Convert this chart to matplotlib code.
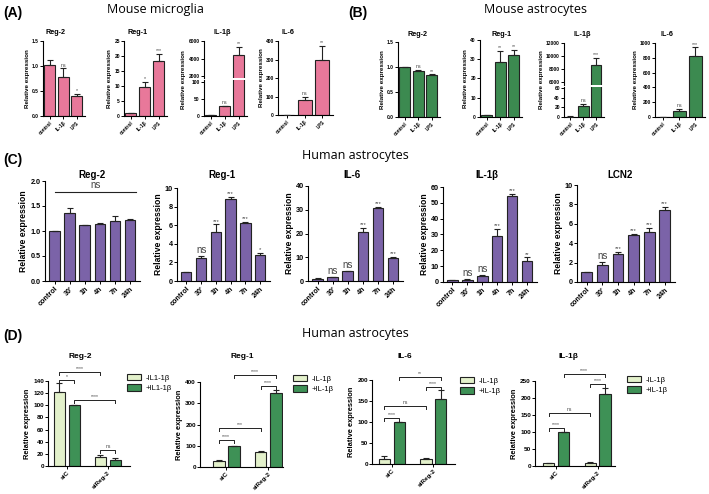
import numpy as np
import matplotlib.pyplot as plt
from matplotlib.patches import Patch

plt.rcParams['font.family'] = ['Liberation Sans', 'DejaVu Sans']

# ---- data ----
cats_ab = ["control", "IL-1β", "LPS"]
cats_c = ["control", "30'", "1h", "4h", "7h", "24h"]
cats_d = ["siC", "siReg-2"]

# (A) mouse microglia
a_reg2 = [1.01, 0.77, 0.39]
a_reg2_err = [0.10, 0.18, 0.05]
a_reg2_sig = ["", "ns", "*"]
a_reg1 = [1.0, 9.6, 18.3]
a_reg1_err = [0.15, 1.8, 2.3]
a_reg1_sig = ["", "*", "***"]
a_il1b = [2, 29, 4400]
a_il1b_err = [0.5, 1.5, 900]
a_il1b_sig = ["", "ns", "**"]
a_il6 = [1.5, 81, 300]
a_il6_err = [0.5, 18, 75]
a_il6_sig = ["", "ns", "**"]

# (B) mouse astrocytes
b_reg2 = [1.0, 0.91, 0.83]
b_reg2_err = [0.0, 0.03, 0.02]
b_reg2_sig = ["", "ns", "**"]
b_reg1 = [1.0, 28.7, 32.0]
b_reg1_err = [0.1, 5.6, 2.9]
b_reg1_sig = ["", "**", "**"]
b_il1b = [1, 23, 8600]
b_il1b_err = [0.3, 4, 1150]
b_il1b_sig = ["", "ns", "***"]
b_il6 = [1, 85, 820]
b_il6_err = [0.3, 25, 120]
b_il6_sig = ["", "ns", "***"]

# (C) human astrocytes, time course
c_reg2 = [1.0, 1.35, 1.11, 1.15, 1.20, 1.23]
c_reg2_err = [0.0, 0.11, 0.01, 0.01, 0.11, 0.02]
c_reg1 = [1.0, 2.45, 5.3, 8.85, 6.2, 2.75]
c_reg1_err = [0.0, 0.25, 0.8, 0.2, 0.12, 0.25]
c_reg1_sig = ["", "ns", "***", "***", "***", "*"]
c_il6 = [1.0, 1.6, 4.1, 20.6, 30.8, 9.6]
c_il6_err = [0.1, 0.2, 0.2, 1.7, 0.5, 0.6]
c_il6_sig = ["", "ns", "ns", "***", "***", "***"]
c_il1b = [1.0, 1.4, 3.9, 28.9, 54.0, 13.2]
c_il1b_err = [0.1, 0.6, 0.7, 4.7, 1.5, 2.3]
c_il1b_sig = ["", "ns", "ns", "***", "***", "**"]
c_lcn2 = [1.0, 1.72, 2.93, 4.82, 5.17, 7.45]
c_lcn2_err = [0.0, 0.33, 0.17, 0.14, 0.4, 0.3]
c_lcn2_sig = ["", "ns", "***", "***", "***", "***"]

# (D) siRNA, order: siC -IL1b, siC +IL1b, siReg-2 -IL1b, siReg-2 +IL1b
d_reg2 = [122, 100, 15, 9.4]
d_reg2_err = [14, 0, 2.7, 3.3]
d_reg2_br = [(0, 2, 155, "****"), (0, 1, 141, "*"), (1, 3, 109, "****"), (2, 3, 26, "ns")]
d_reg1 = [26.7, 99, 70.6, 350]
d_reg1_err = [4, 0, 7, 14]
d_reg1_br = [(1, 3, 433, "****"), (2, 3, 381, "****"), (0, 2, 184, "***"), (0, 1, 127, "****")]
d_il6 = [12.6, 99.6, 12.6, 154]
d_il6_err = [5.5, 0, 2.5, 22]
d_il6_br = [(1, 3, 207, "**"), (2, 3, 183, "****"), (0, 2, 138, "ns"), (0, 1, 110, "****")]
d_il1b = [7.8, 100, 9.8, 212]
d_il1b_err = [2, 0, 2, 16]
d_il1b_br = [(1, 3, 271, "****"), (2, 3, 241, "****"), (0, 2, 156, "ns"), (0, 1, 112, "****")]

PINK = '#e8789a'
GREEN = '#3c8a50'
PURPLE = '#7b63a8'
LIGHT = '#e3f1cb'
DARK = '#3e9156'
EDGE = '#222222'

W, H = 709, 494
fig = plt.figure(figsize=(W / 100, H / 100), dpi=100)


def add_px(l, t, r, b):
    return fig.add_axes([l / W, 1 - b / H, (r - l) / W, (b - t) / H])


def style(ax, fs):
    for s in ['top', 'right']:
        ax.spines[s].set_visible(False)
    for s in ['left', 'bottom']:
        ax.spines[s].set_linewidth(0.8)
    ax.tick_params(labelsize=fs, length=2, width=0.7, pad=1)
    for lab in ax.get_xticklabels() + ax.get_yticklabels():
        lab.set_fontweight('bold')


def draw_bars(ax, x, vals, errs, colors, width):
    ax.bar(x, vals, width, color=colors, edgecolor=EDGE, linewidth=0.8, zorder=2)
    ax.errorbar(x, vals, yerr=[np.zeros(len(vals)), errs], fmt='none', ecolor=EDGE,
                elinewidth=0.8, capsize=2, capthick=0.8, zorder=3)


def marks(ax, x, vals, errs, sigs, fs, ns_fs=None):
    for xi, v, e, s in zip(x, vals, errs, sigs):
        if not s:
            continue
        size = ns_fs if (s == "ns" and ns_fs) else fs
        ax.annotate(s, (xi, v + e), xytext=(0, 0.5), textcoords='offset points',
                    ha='center', va='bottom', fontsize=size, color='#444444')


def ptext(x, y, s, **kw):
    fig.text(x / W, 1 - y / H, s, **kw)


def simple(box, cats, vals, errs, sigs, color, ylim, yticks, ytl, fs_tick, fs_lab,
           fs_star, width, xlim, ns_fs=None):
    ax = add_px(*box)
    x = np.arange(len(vals))
    draw_bars(ax, x, vals, errs, color, width)
    ax.set_ylim(ylim)
    ax.set_yticks(yticks)
    ax.set_yticklabels(ytl)
    ax.set_xticks(x)
    ax.set_xticklabels(cats, rotation=45, ha='right', rotation_mode='anchor')
    ax.set_xlim(xlim)
    ax.set_ylabel('Relative expression', fontsize=fs_lab, fontweight='bold', labelpad=1.5)
    style(ax, fs_tick)
    marks(ax, x, vals, errs, sigs, fs_star, ns_fs)
    return ax


def broken(box_top, box_bot, cats, vals, errs, sigs, color, ylim_t, yt_t, ylim_b, yt_b,
           fs_tick, fs_star, width, xlim, lab_xy, fs_lab):
    axt = add_px(*box_top)
    axb = add_px(*box_bot)
    x = np.arange(len(vals))
    for ax in (axt, axb):
        draw_bars(ax, x, vals, errs, color, width)
        ax.set_xlim(xlim)
    axt.set_ylim(ylim_t)
    axt.set_yticks(yt_t)
    axb.set_ylim(ylim_b)
    axb.set_yticks(yt_b)
    axb.set_xticks(x)
    axb.set_xticklabels(cats, rotation=45, ha='right', rotation_mode='anchor')
    style(axt, fs_tick)
    style(axb, fs_tick)
    axt.spines['bottom'].set_visible(False)
    axt.tick_params(bottom=False, labelbottom=False)
    for xi, v, e, s in zip(x, vals, errs, sigs):
        if not s:
            continue
        ax = axt if v > ylim_b[1] else axb
        ax.annotate(s, (xi, v + e), xytext=(0, 0.5), textcoords='offset points',
                    ha='center', va='bottom', fontsize=fs_star, color='#444444',
                    annotation_clip=False)
    ptext(lab_xy[0], lab_xy[1], 'Relative expression', rotation=90, ha='center',
          va='center', fontsize=fs_lab, fontweight='bold')


# ---- headers ----
ptext(3, 13, '(A)', fontsize=10, fontweight='bold', va='center')
ptext(348, 13, '(B)', fontsize=10, fontweight='bold', va='center')
ptext(3, 160, '(C)', fontsize=10, fontweight='bold', va='center')
ptext(3, 336, '(D)', fontsize=10, fontweight='bold', va='center')
ptext(155, 9, 'Mouse microglia', fontsize=9, ha='center', va='center', family='Open Sans')
ptext(535, 9, 'Mouse astrocytes', fontsize=9, ha='center', va='center', family='Open Sans')
ptext(355, 155, 'Human astrocytes', fontsize=9, ha='center', va='center', family='Open Sans')
ptext(355, 333, 'Human astrocytes', fontsize=9, ha='center', va='center', family='Open Sans')

# ---- (A) ----
fsA, fsAl, fsAs = 3.5, 4.5, 3.8
xl3 = (-0.5, 2.6)
simple((43, 41, 85, 116), cats_ab, a_reg2, a_reg2_err, a_reg2_sig, PINK, (0, 1.5),
       [0, 0.5, 1.0, 1.5], ['0.0', '0.5', '1.0', '1.5'], fsA, fsAl, fsAs, 0.8, xl3)
simple((124, 41, 167, 116), cats_ab, a_reg1, a_reg1_err, a_reg1_sig, PINK, (0, 25),
       [0, 5, 10, 15, 20, 25], ['0', '5', '10', '15', '20', '25'], fsA, fsAl, fsAs, 0.8, xl3)
broken((204, 41, 247, 78), (204, 80, 247, 116), cats_ab, a_il1b, a_il1b_err, a_il1b_sig,
       PINK, (1800, 6000), [2000, 4000, 6000], (0, 105), [0, 50, 100],
       fsA, fsAs, 0.8, xl3, (184, 80), fsAl)
simple((278, 41, 333, 115), cats_ab, a_il6, a_il6_err, a_il6_sig, PINK, (0, 400),
       [0, 100, 200, 300, 400], ['0', '100', '200', '300', '400'], fsA, fsAl, fsAs, 0.8, xl3)
for x, t in [(55, 'Reg-2'), (138, 'Reg-1'), (222, 'IL-1β'), (288, 'IL-6')]:
    ptext(x, 33, t, fontsize=5.2, fontweight='bold', ha='center', va='center')

# ---- (B) ----
simple((398, 42, 440, 117), cats_ab, b_reg2, b_reg2_err, b_reg2_sig, GREEN, (0, 1.5),
       [0, 0.5, 1.0, 1.5], ['0.0', '0.5', '1.0', '1.5'], fsA, fsAl, fsAs, 0.8, xl3)
simple((480, 40, 522, 117), cats_ab, b_reg1, b_reg1_err, b_reg1_sig, GREEN, (0, 40),
       [0, 10, 20, 30, 40], ['0', '10', '20', '30', '40'], fsA, fsAl, fsAs, 0.8, xl3)
broken((564, 43, 604, 85), (564, 87, 604, 117), cats_ab, b_il1b, b_il1b_err, b_il1b_sig,
       GREEN, (5500, 12000), [6000, 8000, 10000, 12000], (0, 62), [0, 20, 40, 60],
       fsA, fsAs, 0.8, xl3, (542, 80), fsAl)
simple((655, 43, 705, 117), cats_ab, b_il6, b_il6_err, b_il6_sig, GREEN, (0, 1000),
       [0, 200, 400, 600, 800, 1000], ['0', '200', '400', '600', '800', '1000'],
       fsA, fsAl, fsAs, 0.8, xl3)
for x, t in [(418, 'Reg-2'), (502, 'Reg-1'), (582, 'IL-1β'), (667, 'IL-6')]:
    ptext(x, 35, t, fontsize=5.2, fontweight='bold', ha='center', va='center')

# ---- (C) ----
fsC, fsCl, fsCs, fsCns = 5.2, 6.2, 4.2, 7
xl6 = (-0.63, 5.66)
ax = simple((45, 181, 140, 281), cats_c, c_reg2, c_reg2_err, [""] * 6, PURPLE, (0, 2.0),
            [0, 0.5, 1.0, 1.5, 2.0], ['0.0', '0.5', '1.0', '1.5', '2.0'],
            fsC, fsCl, fsCs, 0.7, xl6)
ax.plot([0, 5.4], [1.77, 1.77], color=EDGE, lw=0.8)
ax.text(2.7, 1.83, 'ns', ha='center', va='bottom', fontsize=fsCns, color='#444444')
simple((177, 188, 270, 281), cats_c, c_reg1, c_reg1_err, c_reg1_sig, PURPLE, (0, 10),
       [0, 2, 4, 6, 8, 10], ['0', '2', '4', '6', '8', '10'], fsC, fsCl, fsCs, 0.7, xl6, fsCns)
simple((308, 186, 403, 281), cats_c, c_il6, c_il6_err, c_il6_sig, PURPLE, (0, 40),
       [0, 10, 20, 30, 40], ['0', '10', '20', '30', '40'], fsC, fsCl, fsCs, 0.7, xl6, fsCns)
simple((443, 187, 537, 282), cats_c, c_il1b, c_il1b_err, c_il1b_sig, PURPLE, (0, 60),
       [0, 10, 20, 30, 40, 50, 60], ['0', '10', '20', '30', '40', '50', '60'],
       fsC, fsCl, fsCs, 0.7, xl6, fsCns)
simple((577, 185, 675, 282), cats_c, c_lcn2, c_lcn2_err, c_lcn2_sig, PURPLE, (0, 10),
       [0, 2, 4, 6, 8, 10], ['0', '2', '4', '6', '8', '10'], fsC, fsCl, fsCs, 0.7, xl6, fsCns)
for x, t in [(92, 'Reg-2'), (222, 'Reg-1'), (352, 'IL-6'), (487, 'IL-1β'), (620, 'LCN2')]:
    ptext(x, 175, t, fontsize=7, fontweight='bold', ha='center', va='center')

# ---- (D) ----
fsD, fsDl, fsDs = 4.6, 5.4, 3.6
xd = np.array([-0.18, 0.18, 0.82, 1.18])
dcolors = [LIGHT, DARK, LIGHT, DARK]


def d_panel(box, vals, errs, brackets, ylim, yticks, xlim, leg_xy, leg_labels):
    ax = add_px(*box)
    draw_bars(ax, xd, vals, errs, dcolors, 0.27)
    ax.set_ylim(ylim)
    ax.set_yticks(yticks)
    ax.set_xticks([0, 1])
    ax.set_xticklabels(cats_d, rotation=45, ha='right', rotation_mode='anchor')
    ax.set_xlim(xlim)
    ax.set_ylabel('Relative expression', fontsize=fsDl, fontweight='bold', labelpad=1.5)
    style(ax, fsD)
    tick = (ylim[1] - ylim[0]) * 0.035
    for i, j, y, s in brackets:
        ax.plot([xd[i], xd[i], xd[j], xd[j]], [y - tick, y, y, y - tick], color=EDGE,
                lw=0.7, clip_on=False)
        ax.text((xd[i] + xd[j]) / 2, y + tick * 0.3, s, ha='center', va='bottom',
                fontsize=fsDs, color='#444444', clip_on=False)
    handles = [Patch(facecolor=LIGHT, edgecolor=EDGE, lw=0.8),
               Patch(facecolor=DARK, edgecolor=EDGE, lw=0.8)]
    ax.legend(handles, leg_labels, loc='upper left',
              bbox_to_anchor=(leg_xy[0] / W, 1 - leg_xy[1] / H),
              bbox_transform=fig.transFigure, frameon=False, fontsize=5.5,
              handlelength=1.8, handleheight=0.9, borderaxespad=0, borderpad=0,
              labelspacing=0.35, handletextpad=0.6)
    return ax


lab1 = ['-IL1-1β', '+IL1-1β']
lab2 = ['-IL-1β', '+IL-1β']
d_panel((48, 381, 130, 466), d_reg2, d_reg2_err, d_reg2_br, (0, 140),
        [0, 20, 40, 60, 80, 100, 120, 140], (-0.46, 1.54), (127, 374), lab1)
d_panel((200, 382, 283, 467), d_reg1, d_reg1_err, d_reg1_br, (0, 400),
        [0, 100, 200, 300, 400], (-0.63, 1.35), (293, 375), lab2)
d_panel((372, 380, 455, 464), d_il6, d_il6_err, d_il6_br, (0, 200),
        [0, 50, 100, 150, 200], (-0.48, 1.52), (460, 377), lab2)
d_panel((535, 381, 615, 466), d_il1b, d_il1b_err, d_il1b_br, (0, 250),
        [0, 50, 100, 150, 200, 250], (-0.51, 1.42), (627, 376), lab2)
for x, t in [(80, 'Reg-2'), (242, 'Reg-1'), (405, 'IL-6'), (568, 'IL-1β')]:
    ptext(x, 357, t, fontsize=6, fontweight='bold', ha='center', va='center')

fig.savefig('out.png', dpi=100)
